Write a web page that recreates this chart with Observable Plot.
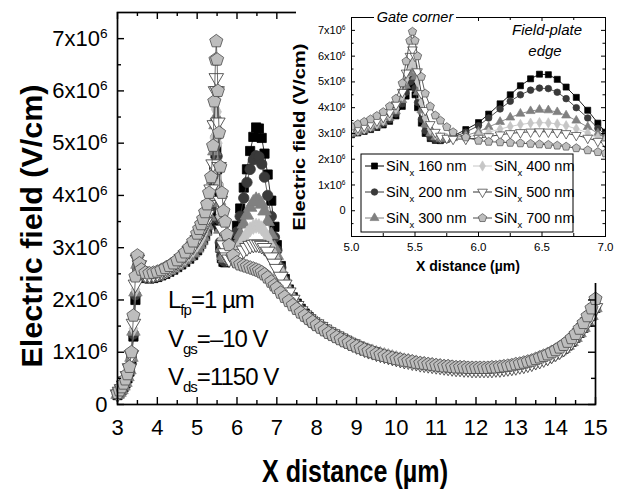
<!DOCTYPE html>
<html><head><meta charset="utf-8">
<script src="https://cdn.jsdelivr.net/npm/d3@7"></script>
<script src="https://cdn.jsdelivr.net/npm/@observablehq/plot@0.6"></script>
<style>
html,body{margin:0;padding:0;background:#fff;}
#wrap{position:relative;width:624px;height:490px;background:#fff;overflow:hidden;font-family:"Liberation Sans",Arial,sans-serif;}
#wrap svg{position:absolute;}
</style></head>
<body><div id="wrap"></div>
<script>
// x positions (µm) of the simulated points
const headX = [3.0,3.05,3.1,3.15,3.2,3.25,3.3,3.35,3.4,3.45,3.5,3.55,3.6,
  3.7,3.8,3.9,4.0,4.1,4.2,4.3,4.4,4.5,4.6,4.7,4.8,4.9,5.0,
  5.05,5.1,5.15,5.2,5.25,5.3,5.35,5.4,
  5.43,5.46,5.48,5.5,5.52,5.55,5.58,5.62,5.66,
  5.7,5.75,5.8,5.9,6.0,
  6.08,6.17,6.25,6.33,6.41,6.48,6.55,6.62,6.69,6.77,6.86,6.94,7.0,
  7.1,7.2,7.3,7.4,7.5,7.6,7.7,7.8,7.9];
const tailX = [8.0,8.1,8.2,8.3,8.4,8.5,8.6,8.7,8.8,8.9,9.0,9.1,9.2,9.3,9.4,9.5,9.6,9.7,9.8,9.9,
  10.0,10.1,10.2,10.3,10.4,10.5,10.6,10.7,10.8,10.9,11.0,11.1,11.2,11.3,11.4,11.5,11.6,11.7,11.8,11.9,
  12.0,12.1,12.2,12.3,12.4,12.5,12.6,12.7,12.8,12.9,13.0,13.1,13.2,13.3,13.4,13.5,13.6,13.7,13.8,13.9,
  14.0,14.1,14.2,14.3,14.4,14.5,14.6,14.7,14.8,14.9,15.0];

// Electric field, in units of 10^6 V/cm
const e160 = [0.18,0.22,0.27,0.33,0.4,0.5,0.63,0.85,1.3,2.0,2.6,2.6,2.48,
  2.42,2.41,2.42,2.44,2.47,2.5,2.54,2.58,2.63,2.68,2.73,2.79,2.86,2.95,
  3.02,3.08,3.15,3.23,3.33,3.47,3.68,4.05,
  4.45,4.8,4.9,4.5,4.0,3.4,3.0,2.8,2.73,
  2.72,2.78,2.9,3.15,3.42,
  3.75,4.15,4.5,4.85,5.12,5.3,5.28,5.1,4.8,4.4,3.9,3.4,3.05,
  2.65,2.4,2.2,2.05,1.93,1.83,1.74,1.67,1.6];
const e200 = [0.19,0.23,0.28,0.34,0.41,0.52,0.65,0.88,1.35,2.1,2.65,2.62,2.5,
  2.44,2.43,2.44,2.46,2.49,2.52,2.56,2.6,2.65,2.7,2.75,2.81,2.88,2.97,
  3.04,3.1,3.18,3.27,3.38,3.53,3.76,4.15,
  4.6,5.0,5.12,4.75,4.2,3.55,3.1,2.85,2.76,
  2.74,2.77,2.85,3.05,3.3,
  3.6,3.95,4.25,4.5,4.68,4.76,4.74,4.6,4.35,4.0,3.6,3.2,2.95,
  2.62,2.38,2.19,2.04,1.92,1.82,1.73,1.66,1.6];
const e300 = [0.19,0.23,0.28,0.35,0.42,0.53,0.66,0.9,1.4,2.15,2.68,2.63,2.51,
  2.45,2.44,2.45,2.47,2.5,2.53,2.57,2.61,2.66,2.71,2.77,2.83,2.9,2.99,
  3.06,3.13,3.21,3.31,3.43,3.6,3.86,4.3,
  4.85,5.35,5.5,5.2,4.6,3.9,3.35,3.0,2.85,
  2.8,2.8,2.82,2.92,3.07,
  3.25,3.45,3.62,3.77,3.87,3.92,3.9,3.83,3.7,3.5,3.25,3.0,2.85,
  2.58,2.36,2.18,2.03,1.91,1.81,1.73,1.66,1.6];
const e400 = [0.2,0.24,0.29,0.36,0.43,0.54,0.68,0.92,1.45,2.2,2.72,2.65,2.53,
  2.47,2.46,2.47,2.49,2.52,2.55,2.59,2.64,2.69,2.75,2.81,2.88,2.96,3.06,
  3.12,3.18,3.27,3.37,3.5,3.68,3.96,4.45,
  5.1,5.65,5.85,5.6,5.0,4.2,3.6,3.15,2.95,
  2.85,2.8,2.8,2.85,2.95,
  3.05,3.17,3.27,3.35,3.4,3.42,3.41,3.37,3.3,3.18,3.02,2.85,2.75,
  2.55,2.35,2.17,2.02,1.9,1.8,1.72,1.65,1.59];
const e500 = [0.2,0.25,0.3,0.37,0.45,0.55,0.7,0.95,1.55,2.3,2.78,2.67,2.55,
  2.49,2.48,2.49,2.51,2.54,2.58,2.62,2.67,2.72,2.79,2.86,2.94,3.03,3.15,
  3.22,3.29,3.38,3.49,3.63,3.82,4.12,4.6,
  5.35,6.0,6.25,6.0,5.4,4.55,3.9,3.35,3.05,
  2.9,2.82,2.78,2.78,2.82,
  2.88,2.95,3.0,3.04,3.06,3.07,3.06,3.04,3.0,2.93,2.82,2.7,2.6,
  2.45,2.3,2.15,2.01,1.89,1.79,1.71,1.64,1.58];
const e700 = [0.22,0.27,0.33,0.4,0.48,0.58,0.72,1.0,1.7,2.45,2.85,2.7,2.58,
  2.52,2.51,2.52,2.54,2.57,2.61,2.65,2.7,2.76,2.83,2.91,3.0,3.12,3.27,
  3.36,3.45,3.55,3.68,3.83,4.05,4.35,4.95,
  5.8,6.6,6.95,6.6,6.0,5.2,4.55,4.05,3.7,
  3.5,3.25,3.05,2.85,2.72,
  2.68,2.66,2.64,2.62,2.6,2.58,2.56,2.53,2.49,2.43,2.35,2.28,2.23,
  2.14,2.06,1.98,1.9,1.83,1.76,1.7,1.64,1.58];
// drift-region tail (x = 8 … 15 µm): 160–500 nm curves coincide; 700 nm separate
const tailThin = [1.54,1.49,1.44,1.39,1.35,1.31,1.27,1.23,1.19,1.16,1.12,1.09,1.06,1.03,1.01,0.98,0.96,0.94,0.92,0.9,
  0.88,0.86,0.84,0.83,0.81,0.8,0.78,0.77,0.76,0.75,0.74,0.73,0.72,0.71,0.7,0.69,0.69,0.68,0.68,0.67,
  0.67,0.67,0.67,0.67,0.67,0.68,0.68,0.69,0.7,0.71,0.72,0.74,0.75,0.77,0.79,0.82,0.84,0.87,0.9,0.94,
  0.98,1.02,1.07,1.13,1.2,1.28,1.37,1.47,1.58,1.7,1.85];
const tail700 = [1.52,1.47,1.42,1.37,1.33,1.29,1.25,1.21,1.18,1.14,1.11,1.08,1.05,1.02,1.0,0.97,0.95,0.93,0.91,0.89,
  0.87,0.86,0.84,0.83,0.82,0.8,0.79,0.78,0.77,0.76,0.75,0.74,0.73,0.73,0.72,0.71,0.71,0.71,0.7,0.7,
  0.7,0.7,0.7,0.7,0.71,0.71,0.72,0.73,0.74,0.75,0.77,0.78,0.8,0.82,0.84,0.87,0.9,0.93,0.96,1.0,
  1.04,1.09,1.14,1.2,1.27,1.35,1.45,1.56,1.69,1.84,2.02];

const thickness = ["160 nm","200 nm","300 nm","400 nm","500 nm","700 nm"];
const mainXTicks = [3,4,5,6,7,8,9,10,11,12,13,14,15];
const mainXMinor = [3.5,4.5,5.5,6.5,7.5,8.5,9.5,10.5,11.5,12.5,13.5,14.5];
const mainYTicks = [0,1,2,3,4,5,6,7];
const mainYMinor = [0.5,1.5,2.5,3.5,4.5,5.5,6.5];
const insetXTicks = [5.0,5.5,6.0,6.5,7.0];
const insetXMinor = [5.25,5.75,6.25,6.75];
const insetYTicks = [0,1,2,3,4,5,6,7];
const insetYMinor = [-0.5,0.5,1.5,2.5,3.5,4.5,5.5,6.5,7.5];

// custom marker shapes
const pentagon = {draw(ctx, size){const r=Math.sqrt(size/2.378);for(let i=0;i<5;i++){const a=-Math.PI/2+i*2*Math.PI/5;const px=r*Math.cos(a),py=r*Math.sin(a);if(i)ctx.lineTo(px,py);else ctx.moveTo(px,py);}ctx.closePath();}};
const triDown = {draw(ctx, size){const r=Math.sqrt(size/1.299);ctx.moveTo(0,r);ctx.lineTo(r*0.866,-r/2);ctx.lineTo(-r*0.866,-r/2);ctx.closePath();}};

const heads = [e160,e200,e300,e400,e500,e700];
const tails = [tailThin,tailThin,tailThin,tailThin,tailThin,tail700];
const looks = [
  {symbol:"square", fill:"#000", stroke:"#000", line:"#000", r:5.2, ri:3.4},
  {symbol:"circle", fill:"#3a3a3a", stroke:"#3a3a3a", line:"#3a3a3a", r:5.2, ri:3.3},
  {symbol:"triangle", fill:"#808080", stroke:"#808080", line:"#808080", r:5.0, ri:3.3},
  {symbol:"diamond", fill:"#c6c6c6", stroke:"#c6c6c6", line:"#c6c6c6", r:4.6, ri:3.1},
  {symbol:triDown, fill:"#fff", stroke:"#333", line:"#333", r:5.4, ri:3.6},
  {symbol:pentagon, fill:"#bdbdbd", stroke:"#4a4a4a", line:"#4a4a4a", r:6.0, ri:3.8}
];
const allX = headX.concat(tailX);
const seriesData = heads.map((h,i)=>{const ys=h.concat(tails[i]);return allX.map((x,j)=>({x, y: ys[j]}));});

const FONT = '"Liberation Sans",Arial,sans-serif';
const wrap = document.getElementById("wrap");

// ---------- main chart ----------
const mW = 624, mH = 490, mL = 117, mR = 29, mT = 12, mB = 86;
const iW = mW-mL-mR, iH = mH-mT-mB;
const mainMarks = [];
seriesData.forEach((d,i)=>{
  const s = looks[i];
  mainMarks.push(Plot.line(d,{x:"x",y:"y",stroke:s.line,strokeWidth:0.8}));
  mainMarks.push(Plot.dot(d,{x:"x",y:"y",symbol:s.symbol,r:s.r,fill:s.fill,stroke:s.stroke,strokeWidth:0.8}));
});
const main = Plot.plot({
  width:mW, height:mH, marginLeft:mL, marginRight:mR, marginTop:mT, marginBottom:mB,
  x:{domain:[3,15]}, y:{domain:[0,7.5]},
  style:{fontFamily:FONT, background:"transparent", color:"#000", overflow:"visible"},
  marks:[
    ...mainMarks,
    Plot.tickX(mainXTicks,{x:d=>d,insetTop:iH-7,stroke:"#000",strokeWidth:1.4}),
    Plot.tickX(mainXMinor,{x:d=>d,insetTop:iH-4,stroke:"#000",strokeWidth:1.4}),
    Plot.tickX(mainXTicks,{x:d=>d,insetBottom:iH-7,stroke:"#000",strokeWidth:1.4}),
    Plot.tickX(mainXMinor,{x:d=>d,insetBottom:iH-4,stroke:"#000",strokeWidth:1.4}),
    Plot.tickY(mainYTicks,{y:d=>d,insetRight:iW-7,stroke:"#000",strokeWidth:1.4}),
    Plot.tickY(mainYMinor,{y:d=>d,insetRight:iW-4,stroke:"#000",strokeWidth:1.4}),
    Plot.tickY(mainYTicks,{y:d=>d,insetLeft:iW-7,stroke:"#000",strokeWidth:1.4}),
    Plot.tickY(mainYMinor,{y:d=>d,insetLeft:iW-4,stroke:"#000",strokeWidth:1.4}),
    Plot.frame({stroke:"#000",strokeWidth:1.7}),
    Plot.axisX({ticks:mainXTicks,tickSize:0,tickPadding:15,fontSize:22,label:null,tickFormat:d=>String(d)}),
    Plot.axisY({ticks:mainYTicks,tickSize:0,tickPadding:10,fontSize:22,label:null,tickFormat:d=>d===0?"0":d+"x10"})
  ]
});
main.style.left="0px"; main.style.top="0px";
wrap.appendChild(main);
const ms = d3.select(main);
ms.selectAll('g[aria-label="y-axis tick label"] text').each(function(){
  const t=d3.select(this); if(t.text()!=="0"){t.append("tspan").attr("dy","-0.55em").attr("font-size","0.62em").text("6");}
});
ms.append("text").attr("transform","translate(42,226) rotate(-90)").attr("text-anchor","middle")
  .attr("font-family",FONT).attr("font-weight","bold").attr("font-size",30)
  .attr("textLength",283).attr("lengthAdjust","spacingAndGlyphs").text("Electric field (V/cm)");
ms.append("text").attr("x",355).attr("y",482).attr("text-anchor","middle")
  .attr("font-family",FONT).attr("font-weight","bold").attr("font-size",31)
  .attr("textLength",186).attr("lengthAdjust","spacingAndGlyphs").text("X distance (\u00b5m)");
function subText(g,x,y,main1,sub,rest){
  const t=g.append("text").attr("x",x).attr("y",y).attr("text-anchor","start").attr("font-family",FONT).attr("font-size",24).attr("letter-spacing","-1px");
  t.append("tspan").text(main1);
  t.append("tspan").attr("font-size",15).attr("dy",7).text(sub);
  t.append("tspan").attr("dy",-7).text(rest);
}
subText(ms,168,308,"L","fp","=1 \u00b5m");
subText(ms,168,347,"V","gs","=\u201310 V");
subText(ms,168,385,"V","ds","=1150 V");

// ---------- inset ----------
const nW = 328, nH = 283, nL = 55, nR = 19, nT = 17, nB = 47;
const niW = nW-nL-nR, niH = nH-nT-nB;
const insetMarks = [];
seriesData.forEach((d,i)=>{
  const s = looks[i];
  const dd = d.filter(p=>p.x>=4.96 && p.x<=7.04);
  insetMarks.push(Plot.line(dd,{x:"x",y:"y",stroke:s.line,strokeWidth:0.9,clip:true}));
  insetMarks.push(Plot.dot(dd,{x:"x",y:"y",symbol:s.symbol,r:s.ri,fill:s.fill,stroke:s.stroke,strokeWidth:0.7,clip:true}));
});
const inset = Plot.plot({
  width:nW, height:nH, marginLeft:nL, marginRight:nR, marginTop:nT, marginBottom:nB,
  x:{domain:[5,7]}, y:{domain:[-1,7.5]},
  style:{fontFamily:FONT, background:"#fff", color:"#000", overflow:"visible"},
  marks:[
    ...insetMarks,
    Plot.tickX(insetXTicks,{x:d=>d,insetTop:niH-4,stroke:"#000"}),
    Plot.tickX(insetXMinor,{x:d=>d,insetTop:niH-3,stroke:"#000"}),
    Plot.tickX(insetXTicks,{x:d=>d,insetBottom:niH-4,stroke:"#000"}),
    Plot.tickX(insetXMinor,{x:d=>d,insetBottom:niH-3,stroke:"#000"}),
    Plot.tickY(insetYTicks,{y:d=>d,insetRight:niW-4,stroke:"#000"}),
    Plot.tickY(insetYMinor,{y:d=>d,insetRight:niW-2.5,stroke:"#000"}),
    Plot.tickY(insetYTicks,{y:d=>d,insetLeft:niW-4,stroke:"#000"}),
    Plot.tickY(insetYMinor,{y:d=>d,insetLeft:niW-2.5,stroke:"#000"}),
    Plot.frame({stroke:"#000",strokeWidth:1}),
    Plot.axisX({ticks:insetXTicks,tickSize:0,tickPadding:6,fontSize:11.5,label:null,tickFormat:d3.format(".1f")}),
    Plot.axisY({ticks:insetYTicks,tickSize:0,tickPadding:6,fontSize:11,label:null,tickFormat:d=>d===0?"0":d+"x10"})
  ]
});
inset.style.left="296px"; inset.style.top="0px";
wrap.appendChild(inset);
const ns = d3.select(inset);
ns.selectAll('g[aria-label="y-axis tick label"] text').each(function(){
  const t=d3.select(this); if(t.text()!=="0"){t.append("tspan").attr("dy","-0.55em").attr("font-size","0.6em").text("6");}
});
ns.append("text").attr("transform","translate(9,137) rotate(-90)").attr("text-anchor","middle")
  .attr("font-family",FONT).attr("font-weight","bold").attr("font-size",16)
  .attr("textLength",187).attr("lengthAdjust","spacingAndGlyphs").text("Electric field (V/cm)");
ns.append("text").attr("x",172).attr("y",271).attr("text-anchor","middle")
  .attr("font-family",FONT).attr("font-weight","bold").attr("font-size",15)
  .attr("textLength",104).attr("lengthAdjust","spacingAndGlyphs").text("X distance (\u00b5m)");
ns.append("rect").attr("x",78).attr("y",8).attr("width",82).attr("height",17).attr("fill","#fff");
ns.append("text").attr("x",119).attr("y",22).attr("text-anchor","middle").attr("font-family",FONT)
  .attr("font-style","italic").attr("font-size",14.5).text("Gate corner");
ns.append("text").attr("x",251).attr("y",35).attr("text-anchor","middle").attr("font-family",FONT)
  .attr("font-style","italic").attr("font-size",15).text("Field-plate");
ns.append("text").attr("x",249).attr("y",56).attr("text-anchor","middle").attr("font-family",FONT)
  .attr("font-style","italic").attr("font-size",15).text("edge");

// legend
const lg = ns.append("g");
lg.append("rect").attr("x",65).attr("y",154).attr("width",212).attr("height",78).attr("fill","#fff").attr("stroke","#000").attr("stroke-width",1);
const colX = [69,177], rowY = [166,192,218];
thickness.forEach((lab,i)=>{
  const c = Math.floor(i/3), r = i%3, s = looks[i];
  const x0 = colX[c], y0 = rowY[r];
  lg.append("line").attr("x1",x0).attr("x2",x0+19).attr("y1",y0).attr("y2",y0).attr("stroke",s.line).attr("stroke-width",1);
  if (s.symbol==="circle") {
    lg.append("circle").attr("cx",x0+9.5).attr("cy",y0).attr("r",s.ri).attr("fill",s.fill).attr("stroke",s.stroke).attr("stroke-width",0.7);
  } else {
    const type = s.symbol==="square"?d3.symbolSquare:s.symbol==="triangle"?d3.symbolTriangle:s.symbol==="diamond"?d3.symbolDiamond:s.symbol;
    lg.append("path").attr("transform",`translate(${x0+9.5},${y0})`).attr("d",d3.symbol(type,Math.PI*s.ri*s.ri)())
      .attr("fill",s.fill).attr("stroke",s.stroke).attr("stroke-width",0.7);
  }
  const t = lg.append("text").attr("x",x0+21).attr("y",y0+5).attr("text-anchor","start").attr("font-family",FONT).attr("font-size",14.5);
  t.append("tspan").text("SiN");
  t.append("tspan").attr("font-size",9.5).attr("dy",5).text("x");
  t.append("tspan").attr("dy",-5).text(" "+lab);
});
</script></body></html>
